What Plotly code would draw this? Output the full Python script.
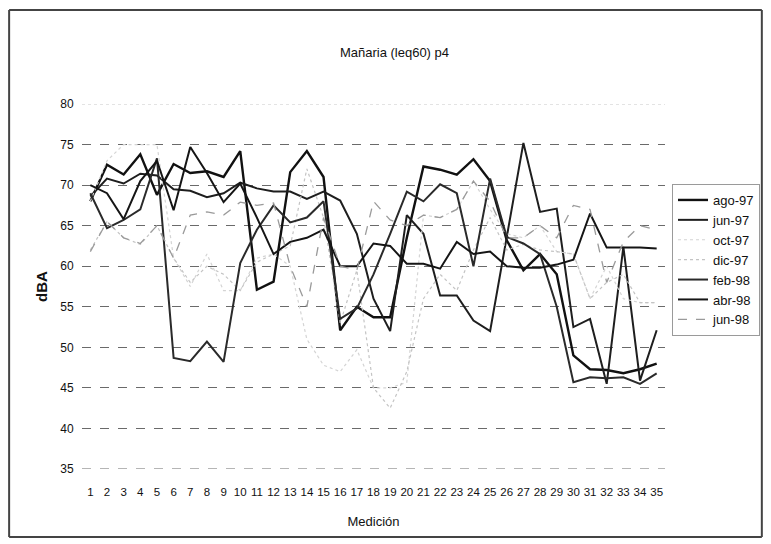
import plotly.graph_objects as go

medicion = list(range(1, 36))
tick_labels = [str(i) for i in medicion]
y_ticks = [35, 40, 45, 50, 55, 60, 65, 70, 75, 80]

ago_97 = [68.0, 72.5, 71.3, 73.8, 68.8, 72.6, 71.5, 71.7, 71.0, 74.2, 57.1, 58.1, 71.6, 74.2, 71.0,
          52.1, 55.0, 53.7, 53.7, 63.5, 72.3, 71.9, 71.3, 73.2, 70.5, 63.2, 59.5, 61.5, 59.0, 49.0,
          47.3, 47.2, 46.8, 47.3, 48.0]
jun_97 = [68.6, 70.8, 70.2, 71.4, 71.2, 69.5, 69.3, 68.5, 69.0, 70.3, 69.6, 69.2, 69.2, 68.3, 69.2,
          68.1, 64.0, 56.0, 52.0, 66.3, 64.0, 56.4, 56.4, 53.3, 52.0, 63.5, 75.2, 66.7, 67.1, 52.5,
          53.5, 45.5, 62.4, 45.9, 52.1]
oct_97 = [68.0, 73.0, 75.0, 75.0, 75.0, 61.0, 57.5, 61.5, 57.0, 57.0, 61.0, 61.5, 60.0, 51.0, 47.8,
          47.0, 49.7, 45.0, 45.0, 45.7, 66.3, 66.0, 67.0, 70.5, 67.0, 64.0, 63.5, 65.0, 61.8, 61.5,
          56.0, 60.0, 56.0, 55.5, 55.5]
dic_97 = [62.0, 65.5, 63.5, 62.7, 65.0, 61.0, 58.0, 60.0, 59.0, 57.0, 60.5, 61.5, 62.5, 72.0, 66.0,
          53.0, 59.5, 45.0, 42.5, 47.0, 56.0, 59.0, 57.0, 62.0, 66.0, 62.0, 62.7, 62.0, 61.8, 61.5,
          56.0, 58.0, 59.0, 55.5, 55.5]
feb_98 = [69.0, 64.7, 65.7, 67.0, 73.3, 48.7, 48.3, 50.7, 48.2, 60.4, 64.5, 67.5, 65.4, 66.0, 68.0,
          53.5, 54.8, 59.0, 64.0, 69.2, 68.0, 70.1, 69.0, 60.0, 70.8, 63.6, 62.8, 61.5, 55.0, 45.7,
          46.3, 46.2, 46.3, 45.5, 46.8]
abr_98 = [70.0, 69.0, 65.8, 70.5, 73.0, 66.9, 74.7, 71.5, 67.9, 70.2, 66.0, 61.5, 63.0, 63.5, 64.5,
          60.0, 60.0, 62.8, 62.5, 60.3, 60.3, 59.7, 63.0, 61.5, 61.8, 60.0, 59.8, 59.8, 60.2, 60.8,
          66.5, 62.3, 62.3, 62.3, 62.2]
jun_98 = [61.8, 65.5, 63.5, 62.8, 65.0, 61.0, 66.3, 66.7, 66.3, 67.9, 67.5, 67.8, 60.0, 55.0, 66.0,
          60.0, 59.5, 68.0, 65.7, 65.0, 66.3, 66.0, 67.0, 70.5, 68.0, 63.5, 63.5, 65.0, 63.5, 67.5,
          67.0, 58.0, 63.0, 65.0, 64.5]

series = [
    ("ago-97", ago_97, "#111111", 2.4, "solid"),
    ("jun-97", jun_97, "#1e1e1e", 2.0, "solid"),
    ("oct-97", oct_97, "#d4d4d4", 1.2, "dot"),
    ("dic-97", dic_97, "#c4c4c4", 1.2, "dot"),
    ("feb-98", feb_98, "#2a2a2a", 2.0, "solid"),
    ("abr-98", abr_98, "#151515", 2.0, "solid"),
    ("jun-98", jun_98, "#9a9a9a", 1.3, "dash"),
]

font_family = "Liberation Sans, Arial, sans-serif"

fig = go.Figure()
for i, (name, vals, color, width, dash) in enumerate(series):
    fig.add_trace(go.Scatter(
        x=medicion, y=vals, mode="lines", name=name,
        legendgroup=f"g{i}",
        line=dict(color=color, width=width, dash=dash),
    ))

L, R, T, B = 82, 105, 104, 75
W, H = 771, 544
pw, ph = W - L - R, H - T - B

def px_to_paper_x(px):
    return (px - L) / pw

def px_to_paper_y(py):
    return (H - B - py) / ph

fig.update_layout(
    width=W, height=H,
    margin=dict(l=L, r=R, t=T, b=B),
    paper_bgcolor="white", plot_bgcolor="white",
    font=dict(family=font_family, color="#111111", size=12),
    title=dict(text="Mañaria (leq60) p4", x=px_to_paper_x(395), xref="paper",
               xanchor="center", y=1 - 52 / H, yanchor="middle",
               font=dict(size=13, family=font_family, color="#111111")),
    showlegend=True,
    legend=dict(
        x=px_to_paper_x(672), y=px_to_paper_y(184), xanchor="left", yanchor="top",
        bgcolor="white", bordercolor="#9a9a9a", borderwidth=1,
        font=dict(size=13, family=font_family, color="#111111"),
        tracegroupgap=9, traceorder="normal",
    ),
    xaxis=dict(
        range=[0.5, 35.5], tickmode="array", tickvals=medicion, ticktext=tick_labels,
        tickangle=0,
        showgrid=False, zeroline=False, showline=False,
        ticks="outside", ticklen=12, tickcolor="rgba(0,0,0,0)",
        tickfont=dict(size=11.5, family=font_family, color="#111111"),
        title=dict(text="Medición", font=dict(size=13, family=font_family, color="#111111"), standoff=20),
    ),
    yaxis=dict(
        range=[35, 80], tickmode="array", tickvals=y_ticks,
        showgrid=True, gridcolor="#6a6a6a", griddash="dash", gridwidth=1,
        zeroline=False, showline=False,
        ticks="outside", ticklen=5, tickcolor="rgba(0,0,0,0)",
        tickfont=dict(size=12, family=font_family, color="#111111"),
        title=dict(text="<b>dBA</b>", font=dict(size=15, family=font_family, color="#111111"), standoff=8),
    ),
)

# gridlines at the range edges (plotly omits them), drawn at the first and last tick values
fig.add_shape(type="line", xref="paper", yref="y", x0=0, x1=1, y0=y_ticks[0], y1=y_ticks[0],
              line=dict(color="#6a6a6a", width=1, dash="dash"), layer="below")
fig.add_shape(type="line", xref="paper", yref="y", x0=0, x1=1, y0=y_ticks[-1], y1=y_ticks[-1],
              line=dict(color="#c8c8c8", width=1, dash="dot"), layer="below")

# outer chart-area frame, drawn as four edges
fx0, fx1 = px_to_paper_x(9), px_to_paper_x(763)
fy0, fy1 = px_to_paper_y(537), px_to_paper_y(10)
for (a, b, c, d) in [(fx0, fy1, fx1, fy1), (fx0, fy0, fx1, fy0), (fx0, fy0, fx0, fy1), (fx1, fy0, fx1, fy1)]:
    fig.add_shape(type="line", xref="paper", yref="paper", x0=a, y0=b, x1=c, y1=d,
                  line=dict(color="#444444", width=2), layer="above")

fig.write_html("out.html", config={"displayModeBar": False},
               post_script="document.body.style.margin='0';document.body.style.overflow='hidden';")
